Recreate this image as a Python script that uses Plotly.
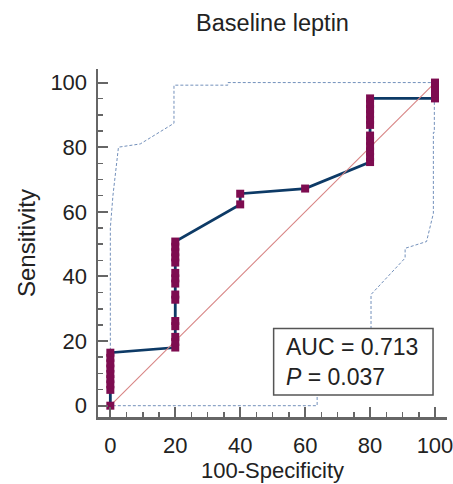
import plotly.graph_objects as go

# ROC operating points (100-Specificity, Sensitivity)
roc_x = [0, 0, 0, 0, 0, 0, 0, 0, 0,
         20, 20, 20, 20, 20, 20, 20, 20, 20, 20, 20, 20, 20, 20, 20,
         40, 40, 60,
         80, 80, 80, 80, 80, 80, 80, 80, 80, 80, 80, 80,
         100, 100, 100, 100]
roc_y = [0, 4.9, 6.6, 8.2, 9.8, 11.5, 13.1, 14.8, 16.4,
         18.0, 19.7, 21.3, 24.6, 26.2, 32.8, 34.4, 37.8, 39.4, 41.1, 44.3, 45.9, 47.5, 49.2, 50.8,
         62.3, 65.6, 67.2,
         75.4, 77.0, 78.7, 80.3, 82.0, 83.6, 86.9, 88.5, 90.2, 91.8, 93.4, 95.1,
         95.1, 96.7, 98.4, 100]

# 95% confidence bounds
upper_x = [0, 0, 0.8, 2.5, 9.2, 19.6, 19.6, 36.2, 36.2, 100]
upper_y = [0, 55, 65, 80, 81, 87.4, 99.2, 99.2, 100, 100]
lower_x = [100, 99.8, 99.8, 99.5, 99.5, 97.4, 90.8, 90.8, 80.3, 80.3, 63.7, 63.7, 0]
lower_y = [100, 100, 84.6, 84.6, 59.5, 50.8, 48.7, 45.7, 34.4, 20, 5, 0, 0]

diag = [0, 100]
ticks = [0, 20, 40, 60, 80, 100]

auc_text = "AUC = 0.713<br><i>P</i> = 0.037"

FONT = "Liberation Sans, Arial, sans-serif"

fig = go.Figure()
band_style = dict(color="#7390bb", width=1, dash="3px,2px")
fig.add_trace(go.Scatter(x=upper_x, y=upper_y, mode="lines", line=band_style, hoverinfo="skip"))
fig.add_trace(go.Scatter(x=lower_x, y=lower_y, mode="lines", line=band_style, hoverinfo="skip"))
fig.add_trace(go.Scatter(x=roc_x, y=roc_y, mode="lines", line=dict(color="#0d3a66", width=2.8)))
fig.add_trace(go.Scatter(x=diag, y=diag, mode="lines", line=dict(color="#d88585", width=1.1)))
fig.add_trace(go.Scatter(x=roc_x, y=roc_y, mode="markers",
                         marker=dict(symbol="square", size=8, color="#7d0c50",
                                     line=dict(width=0))))

axis_common = dict(
    showgrid=False, zeroline=False, showline=True, linecolor="#666666", linewidth=2.5,
    ticks="inside", ticklen=10, tickwidth=2, tickcolor="#666666",
    tickvals=ticks, ticktext=[str(t) for t in ticks],
    tickfont=dict(family=FONT, size=22, color="#222222"),
    minor=dict(dtick=5, tick0=0, ticks="inside", ticklen=5, tickwidth=1.5, tickcolor="#666666"),
    mirror=False, fixedrange=True, automargin=False, ticklabeloverflow="allow",
)

fig.update_layout(
    width=453, height=484,
    margin=dict(l=98, r=6, t=69, b=67),
    paper_bgcolor="white", plot_bgcolor="white",
    showlegend=False,
    font=dict(family=FONT, color="#222222"),
    title=dict(text="Baseline leptin", x=0.5, xref="paper", y=1 - 23 / 484, yref="container",
               yanchor="middle", xanchor="center",
               font=dict(family=FONT, size=23.5, color="#222222")),
    xaxis=dict(range=[-3.8, 103.7], ticklabelstandoff=7,
               title=dict(text="100-Specificity", font=dict(family=FONT, size=22, color="#222222"),
                          standoff=1),
               **axis_common),
    yaxis=dict(range=[-3.5, 104.2], ticklabelstandoff=4,
               title=dict(text="Sensitivity", font=dict(family=FONT, size=24, color="#222222"),
                          standoff=8),
               **axis_common),
    shapes=[dict(type="rect", xref="x", yref="y", x0=50.3, x1=99.4, y0=3.3, y1=23.9,
                 line=dict(color="#555555", width=1.5), fillcolor="white", layer="above")],
    annotations=[dict(text=auc_text, x=53.5, y=13.4, xref="x", yref="y",
                      xanchor="left", yanchor="middle", align="left", showarrow=False,
                      font=dict(family=FONT, size=23, color="#222222"))],
)

fig.write_html("out.html", config={"displayModeBar": False, "staticPlot": True},
               post_script="document.body.style.margin='0px';document.body.style.overflow='hidden';")
